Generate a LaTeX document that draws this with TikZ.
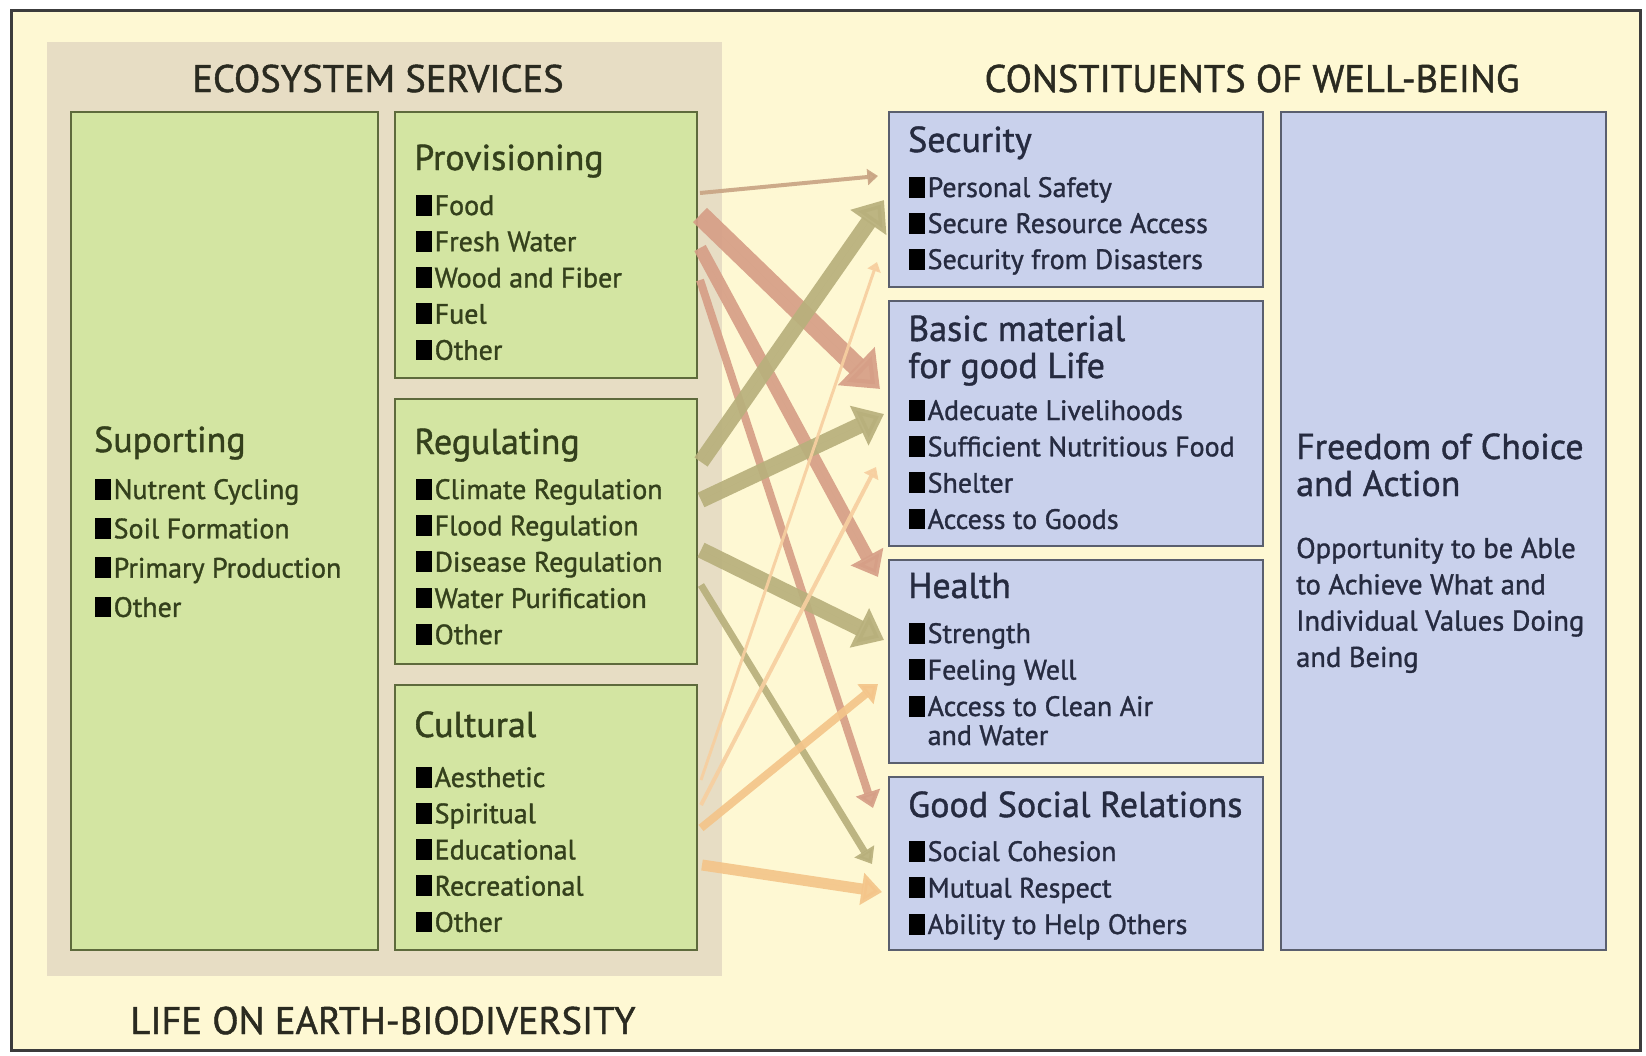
\documentclass[tikz,border=0pt]{standalone}
\usepackage{fontspec}
\setmainfont{PT Sans}[FakeBold=1.2]
\usetikzlibrary{arrows.meta}
\definecolor{bgy}{HTML}{FEF8D3}
\definecolor{beige}{HTML}{E7DDC4}
\definecolor{gfill}{HTML}{D3E5A2}
\definecolor{gborder}{HTML}{5E6A3C}
\definecolor{gtext}{HTML}{34401C}
\definecolor{bfill}{HTML}{C9D1EC}
\definecolor{bborder}{HTML}{5A5F6E}
\definecolor{btext}{HTML}{262B40}
\definecolor{htext}{HTML}{2A2A20}
\definecolor{framec}{HTML}{3C3C3C}
\definecolor{pinkc}{HTML}{D69F87}
\definecolor{tanc}{HTML}{C9A584}
\definecolor{olivec}{HTML}{B8B07C}
\definecolor{orangec}{HTML}{F4C58A}
\definecolor{lorangec}{HTML}{F7CFA0}
\newcommand{\bsq}{\textcolor{black}{\rule[-0.02em]{0.58em}{0.74em}}\hspace{0.08em}}
\tikzset{
  gbox/.style={draw=gborder, fill=gfill, line width=2.5pt, anchor=north west, inner sep=0pt, outer sep=0pt},
  bbox/.style={draw=bborder, fill=bfill, line width=2.5pt, anchor=north west, inner sep=0pt, outer sep=0pt},
  gtitle/.style={anchor=base west, inner sep=0pt, text=gtext, font=\fontsize{36}{40}\selectfont},
  gitem/.style={anchor=base west, inner sep=0pt, text=gtext, font=\fontsize{28}{32}\selectfont},
  btitle/.style={anchor=base west, inner sep=0pt, text=btext, font=\fontsize{36}{40}\selectfont},
  bitem/.style={anchor=base west, inner sep=0pt, text=btext, font=\fontsize{28}{32}\selectfont},
  bbody/.style={anchor=base west, inner sep=0pt, text=btext, font=\fontsize{28.5}{32}\selectfont},
  head/.style={anchor=base, inner sep=0pt, text=htext, font=\fontsize{38.5}{42}\selectfont},
  conn/.style={-{Triangle[length=5pt 1.4, width=7pt 2.2]}, opacity=.92},
}
\begin{document}
\begin{tikzpicture}[x=1pt,y=-1pt]
\useasboundingbox (0,0) rectangle (1646,1055);
\fill[white] (0,0) rectangle (1646,1055);
\draw[draw=framec, fill=bgy, line width=3pt] (11,10) rectangle (1640,1050);
\fill[beige] (47,42) rectangle (722,976);

% headings
\node[head] (hes) at (378,92) {ECOSYSTEM SERVICES};
\node[head] (hwb) at (1252,92) {CONSTITUENTS OF WELL-BEING};
\node[head] (hle) at (383,1034) {LIFE ON EARTH-BIODIVERSITY};

% ecosystem service boxes
\node[gbox, minimum width=307pt, minimum height=838pt] (sup) at (71,112) {};
\node[gbox, minimum width=302pt, minimum height=266pt] (prov) at (395,112) {};
\node[gbox, minimum width=302pt, minimum height=265pt] (reg) at (395,399) {};
\node[gbox, minimum width=302pt, minimum height=265pt] (cult) at (395,685) {};

% well-being boxes
\node[bbox, minimum width=374pt, minimum height=175pt] (sec) at (889,112) {};
\node[bbox, minimum width=374pt, minimum height=245pt] (basic) at (889,301) {};
\node[bbox, minimum width=374pt, minimum height=203pt] (health) at (889,560) {};
\node[bbox, minimum width=374pt, minimum height=173pt] (social) at (889,777) {};
\node[bbox, minimum width=325pt, minimum height=838pt] (free) at (1281,112) {};

% texts: supporting
\node[gtitle] (tsup) at (94,452) {Suporting};
\foreach \t [count=\i] in {Nutrent Cycling, Soil Formation, Primary Production, Other}
  \node[gitem] (sup\i) at (95,{499+39.3*(\i-1)}) {\bsq\t};
% provisioning
\node[gtitle] (tprov) at (414,170) {Provisioning};
\foreach \t [count=\i] in {Food, Fresh Water, Wood and Fiber, Fuel, Other}
  \node[gitem] (prov\i) at (416,{215+36.2*(\i-1)}) {\bsq\t};
% regulating
\node[gtitle] (treg) at (414,454) {Regulating};
\foreach \t [count=\i] in {Climate Regulation, Flood Regulation, Disease Regulation, Water Purification, Other}
  \node[gitem] (reg\i) at (416,{499+36.3*(\i-1)}) {\bsq\t};
% cultural
\node[gtitle] (tcult) at (414,737) {Cultural};
\foreach \t [count=\i] in {Aesthetic, Spiritual, Educational, Recreational, Other}
  \node[gitem] (cult\i) at (416,{787+36.2*(\i-1)}) {\bsq\t};

% security
\node[btitle] (tsec) at (908,152) {Security};
\foreach \t [count=\i] in {Personal Safety, Secure Resource Access, Security from Disasters}
  \node[bitem] (sec\i) at (909,{197+36*(\i-1)}) {\bsq\t};
% basic material
\node[btitle] (tbas1) at (908,341) {Basic material};
\node[btitle] (tbas2) at (908,378) {for good Life};
\foreach \t [count=\i] in {Adecuate Livelihoods, Sufficient Nutritious Food, Shelter, Access to Goods}
  \node[bitem] (bas\i) at (909,{420+36.3*(\i-1)}) {\bsq\t};
% health
\node[btitle] (thea) at (908,598) {Health};
\foreach \t [count=\i] in {Strength, Feeling Well, Access to Clean Air}
  \node[bitem] (hea\i) at (909,{643+36.5*(\i-1)}) {\bsq\t};
\node[bitem] (hea4) at (909,745) {\phantom{\bsq}and Water};
% social
\node[btitle] (tsoc) at (908,817) {Good Social Relations};
\foreach \t [count=\i] in {Social Cohesion, Mutual Respect, Ability to Help Others}
  \node[bitem] (soc\i) at (909,{861+36.5*(\i-1)}) {\bsq\t};
% freedom
\node[btitle] (tfr1) at (1296,459) {Freedom of Choice};
\node[btitle] (tfr2) at (1296,496) {and Action};
\foreach \t [count=\i] in {Opportunity to be Able, to Achieve What and, Individual Values Doing, and Being}
  \node[bbody] (fr\i) at (1296,{558+36.3*(\i-1)}) {\t};

% connector end points
\coordinate (ps0) at (700,193); \coordinate (ps1) at (878,176);
\coordinate (pb0) at (700,215); \coordinate (pb1) at (880,389);
\coordinate (ph0) at (700,248); \coordinate (ph1) at (878,577);
\coordinate (pr0) at (700,280); \coordinate (pr1) at (873,808);
\coordinate (rs0) at (701,462); \coordinate (rs1) at (884,200);
\coordinate (rb0) at (701,500); \coordinate (rb1) at (884,414);
\coordinate (rh0) at (701,550); \coordinate (rh1) at (884,640);
\coordinate (rr0) at (701,585); \coordinate (rr1) at (872,864);
\coordinate (cs0) at (701,780); \coordinate (cs1) at (877,262);
\coordinate (cb0) at (701,805); \coordinate (cb1) at (876,467);
\coordinate (ch0) at (701,828); \coordinate (ch1) at (878,684);
\coordinate (cr0) at (702,865); \coordinate (cr1) at (882,892);

% provisioning links
\draw[conn, draw=tanc, fill=tanc, line width=4pt] (ps0) -- (ps1);
\draw[conn, draw=pinkc, fill=pinkc, line width=20pt] (pb0) -- (pb1);
\draw[conn, draw=pinkc, fill=pinkc, line width=13pt] (ph0) -- (ph1);
\draw[conn, draw=pinkc, fill=pinkc, line width=8pt] (pr0) -- (pr1);
% regulating links
\draw[conn, draw=olivec, fill=olivec, line width=16pt] (rs0) -- (rs1);
\draw[conn, draw=olivec, fill=olivec, line width=16pt] (rb0) -- (rb1);
\draw[conn, draw=olivec, fill=olivec, line width=16pt] (rh0) -- (rh1);
\draw[conn, draw=olivec, fill=olivec, line width=7pt] (rr0) -- (rr1);
% cultural links
\draw[conn, draw=lorangec, fill=lorangec, line width=3pt] (cs0) -- (cs1);
\draw[conn, draw=lorangec, fill=lorangec, line width=4pt] (cb0) -- (cb1);
\draw[conn, draw=orangec, fill=orangec, line width=8pt] (ch0) -- (ch1);
\draw[conn, draw=orangec, fill=orangec, line width=11pt] (cr0) -- (cr1);
\end{tikzpicture}
\end{document}
